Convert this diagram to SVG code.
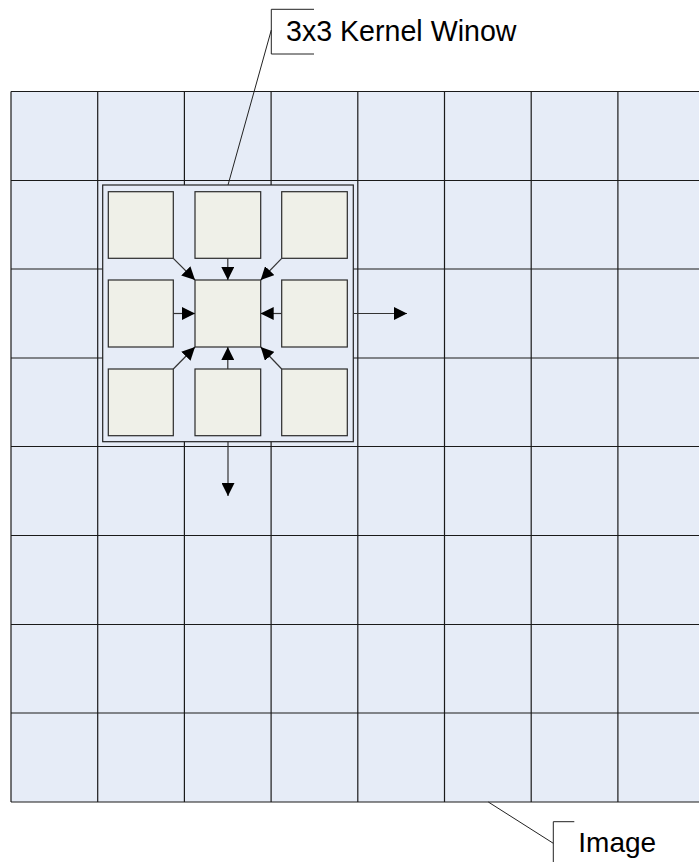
<svg xmlns="http://www.w3.org/2000/svg" width="699" height="862" viewBox="0 0 699 862">
<style>
.grid{stroke:#1a1a1a;stroke-width:1.2;fill:none}
.box{fill:#eff0e8;stroke:#2a2a2a;stroke-width:1.2}
.win{fill:#e6ecf7;stroke:#222;stroke-width:1.2}
.conn{stroke:#333;stroke-width:1.2;fill:none}
.lead{stroke:#222;stroke-width:1;fill:none}
.lbl{font-family:"Liberation Sans",Arial,sans-serif;font-size:28px;fill:#000}
</style>
<defs>
<marker id="ah" viewBox="0 0 10 10" refX="10" refY="5" markerWidth="13" markerHeight="13" markerUnits="userSpaceOnUse" orient="auto">
<path d="M0,0 L10,5 L0,10 Z" fill="#000"/>
</marker>
</defs>
<rect width="699" height="862" fill="#fff"/>
<g id="image">
<rect x="11" y="91.5" width="694" height="710.5" fill="#e6ecf7"/>
<g class="grid">
<line x1="11" y1="91.5" x2="705" y2="91.5"/>
<line x1="11" y1="180.5" x2="705" y2="180.5"/>
<line x1="11" y1="269" x2="705" y2="269"/>
<line x1="11" y1="358" x2="705" y2="358"/>
<line x1="11" y1="446.5" x2="705" y2="446.5"/>
<line x1="11" y1="535.5" x2="705" y2="535.5"/>
<line x1="11" y1="624.5" x2="705" y2="624.5"/>
<line x1="11" y1="713" x2="705" y2="713"/>
<line x1="11" y1="802" x2="705" y2="802"/>
<line x1="11" y1="91.5" x2="11" y2="802"/>
<line x1="97.7" y1="91.5" x2="97.7" y2="802"/>
<line x1="184.4" y1="91.5" x2="184.4" y2="802"/>
<line x1="271.1" y1="91.5" x2="271.1" y2="802"/>
<line x1="357.8" y1="91.5" x2="357.8" y2="802"/>
<line x1="444.5" y1="91.5" x2="444.5" y2="802"/>
<line x1="531.2" y1="91.5" x2="531.2" y2="802"/>
<line x1="617.9" y1="91.5" x2="617.9" y2="802"/>
</g>
</g>
<g id="kernel-window">
<rect class="win" x="102.7" y="185" width="250.6" height="256.7"/>
</g>
<g id="k-tl"><rect class="box" x="108.3" y="191.7" width="65" height="66.6"/></g>
<g id="k-tm"><rect class="box" x="195" y="191.7" width="65.7" height="66.6"/></g>
<g id="k-tr"><rect class="box" x="281.7" y="191.7" width="65.6" height="66.6"/></g>
<g id="k-ml"><rect class="box" x="108.3" y="280" width="65" height="67"/></g>
<g id="k-c"><rect class="box" x="195" y="280" width="65.7" height="67"/></g>
<g id="k-mr"><rect class="box" x="281.7" y="280" width="65.6" height="67"/></g>
<g id="k-bl"><rect class="box" x="108.3" y="369" width="65" height="66.7"/></g>
<g id="k-bm"><rect class="box" x="195" y="369" width="65.7" height="66.7"/></g>
<g id="k-br"><rect class="box" x="281.7" y="369" width="65.6" height="66.7"/></g>
<g id="connectors">
<line class="conn" x1="173.3" y1="258.3" x2="195" y2="280" marker-end="url(#ah)"/>
<line class="conn" x1="227.8" y1="258.3" x2="227.8" y2="280" marker-end="url(#ah)"/>
<line class="conn" x1="281.7" y1="258.3" x2="260.7" y2="280" marker-end="url(#ah)"/>
<line class="conn" x1="173.3" y1="313.5" x2="195" y2="313.5" marker-end="url(#ah)"/>
<line class="conn" x1="281.7" y1="313.5" x2="260.7" y2="313.5" marker-end="url(#ah)"/>
<line class="conn" x1="173.3" y1="369" x2="195" y2="347" marker-end="url(#ah)"/>
<line class="conn" x1="227.8" y1="369" x2="227.8" y2="347" marker-end="url(#ah)"/>
<line class="conn" x1="281.7" y1="369" x2="260.7" y2="347" marker-end="url(#ah)"/>
<line class="conn" x1="353.3" y1="313.5" x2="407" y2="313.5" marker-end="url(#ah)"/>
<line class="conn" x1="228" y1="441.7" x2="228" y2="496" marker-end="url(#ah)"/>
</g>
<g id="label-kernel">
<line class="lead" x1="228" y1="185" x2="271.3" y2="30"/>
<polyline class="lead" points="314,9.3 271.3,9.3 271.3,54 314,54"/>
<text class="lbl" x="286" y="40.5" style="font-size:28.6px">3x3 Kernel Winow</text>
</g>
<g id="label-image">
<line class="lead" x1="488.3" y1="802" x2="553.3" y2="843.3"/>
<polyline class="lead" points="574.3,821.7 553.3,821.7 553.3,862"/>
<text class="lbl" x="578.3" y="852.3">Image</text>
</g>
</svg>
